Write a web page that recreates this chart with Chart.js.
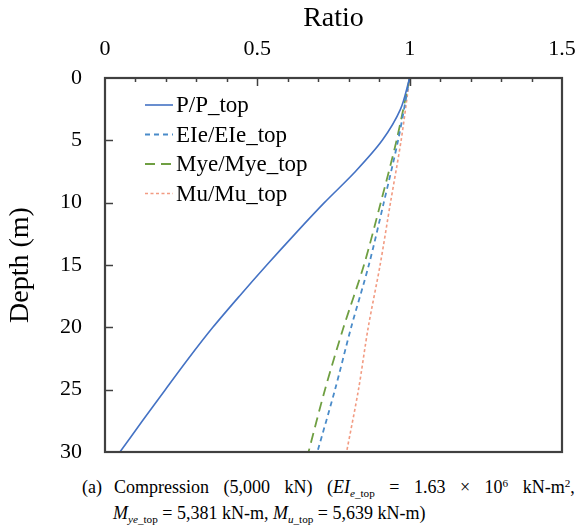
<!DOCTYPE html>
<html>
<head>
<meta charset="utf-8">
<script src="https://cdn.jsdelivr.net/npm/chart.js@4.4.0/dist/chart.umd.min.js"></script>
<style>
  body { margin: 0; background: #fff; overflow: hidden; }
  #wrap { position: relative; width: 579px; height: 525px; font-family: "Liberation Serif", "Times New Roman", serif; color: #000; }
  #chartBox { position: absolute; left: 0; top: 0; width: 579px; height: 470px; }
  .cap { position: absolute; font-size: 18px; line-height: 1.2; white-space: nowrap; }
  .cap sub, .cap sup { font-size: 0.62em; line-height: 0; }
  .cap sub { vertical-align: -0.35em; }
  .cap sup { vertical-align: 0.55em; }
  .wide { word-spacing: 10px; }
</style>
</head>
<body>
<div id="wrap">
  <div id="chartBox"><canvas id="chart" width="579" height="470"></canvas></div>
  <div class="cap" style="left:82px; top:477px;">(a)</div>
  <div class="cap wide" style="left:114px; top:477px;">Compression (5,000 kN) (<i>EI<sub>e</sub></i><sub>_top</sub> = 1.63 × 10<sup>6</sup> kN-m<sup>2</sup>,</div>
  <div class="cap" style="left:113px; top:503px;"><i>M<sub>ye</sub></i><sub>_top</sub> = 5,381 kN-m, <i>M<sub>u</sub></i><sub>_top</sub> = 5,639 kN-m)</div>
</div>
<script>
// depth below pile top (m)
const depthFine = [0, 2.5, 5, 7.5, 10, 12.5, 15, 17.5, 20, 22.5, 25, 27.5, 30];
const depthCoarse = [0, 5, 10, 15, 20, 25, 30];

// ratios to the value at the top
const pRatio   = [1.0, 0.97, 0.91, 0.822, 0.72, 0.624, 0.531, 0.441, 0.354, 0.274, 0.198, 0.123, 0.049];
const eiRatio  = [1.0, 0.962, 0.915, 0.866, 0.808, 0.755, 0.697];
const myeRatio = [1.0, 0.957, 0.905, 0.85, 0.783, 0.722, 0.668];
const muRatio  = [1.0, 0.972, 0.937, 0.903, 0.864, 0.832, 0.793];

const seriesNames = ["P/P_top", "EIe/EIe_top", "Mye/Mye_top", "Mu/Mu_top"];
const ratioTicks = [0, 0.5, 1, 1.5];
const depthTicks = [0, 5, 10, 15, 20, 25, 30];

const serif = '"Liberation Serif", "Times New Roman", serif';

const toPoints = (depths, ratios) => ratios.map((r, i) => ({ x: r, y: depths[i] }));

const datasets = [
    { label: seriesNames[0], data: toPoints(depthFine, pRatio), borderColor: "#4472C4", borderWidth: 1.6, borderDash: [], tension: 0.3 },
    { label: seriesNames[1], data: toPoints(depthCoarse, eiRatio), borderColor: "#4A8BC9", borderWidth: 1.8, borderDash: [5, 4], tension: 0.3 },
    { label: seriesNames[2], data: toPoints(depthCoarse, myeRatio), borderColor: "#6F9F42", borderWidth: 1.8, borderDash: [10, 6], tension: 0.3 },
    { label: seriesNames[3], data: toPoints(depthCoarse, muRatio), borderColor: "#F29B82", borderWidth: 1.6, borderDash: [3, 2.5], tension: 0.3 },
];
datasets.forEach(ds => {
    ds.showLine = true;
    ds.pointRadius = 0;
    ds.fill = false;
});

// box around the plot plus inward tick marks
const frame = {
    id: "frame",
    afterDraw(chart) {
        const { ctx, chartArea: a, scales } = chart;
        ctx.save();
        ctx.setLineDash([]);
        ctx.strokeStyle = "#404040";
        ctx.lineWidth = 1.5;
        for (let i = 1; i < 15; i++) {
            const px = Math.round(scales.x.getPixelForValue(i / 10)) + 0.5;
            const len = i % 5 === 0 ? 8 : 4;
            ctx.beginPath();
            ctx.moveTo(px, a.top);
            ctx.lineTo(px, a.top + len);
            ctx.stroke();
        }
        depthTicks.slice(1, -1).forEach(d => {
            const py = Math.round(scales.y.getPixelForValue(d)) + 0.5;
            ctx.beginPath();
            ctx.moveTo(a.left, py);
            ctx.lineTo(a.left + 8, py);
            ctx.stroke();
        });
        ctx.lineWidth = 2.2;
        ctx.strokeRect(a.left, a.top, a.right - a.left, a.bottom - a.top);
        ctx.restore();
    }
};

// legend drawn inside the plot, top left
const innerLegend = {
    id: "innerLegend",
    afterDraw(chart) {
        const { ctx, chartArea: a } = chart;
        ctx.save();
        chart.data.datasets.forEach((ds, i) => {
            const yy = a.top + 27 + i * 29.5;
            ctx.beginPath();
            ctx.setLineDash(ds.borderDash);
            ctx.strokeStyle = ds.borderColor;
            ctx.lineWidth = ds.borderWidth;
            ctx.moveTo(a.left + 40, yy);
            ctx.lineTo(a.left + 68, yy);
            ctx.stroke();
            ctx.setLineDash([]);
            ctx.fillStyle = "#000";
            ctx.font = "23px " + serif;
            ctx.textBaseline = "middle";
            ctx.fillText(ds.label, a.left + 71, yy + 1);
        });
        ctx.restore();
    }
};

new Chart(document.getElementById("chart"), {
    type: "scatter",
    data: { datasets: datasets },
    options: {
        responsive: false,
        animation: false,
        layout: { padding: { left: 0, right: 17, top: 0, bottom: 18 } },
        plugins: { legend: { display: false }, tooltip: { enabled: false } },
        scales: {
            x: {
                type: "linear",
                position: "top",
                min: 0,
                max: 1.5,
                afterBuildTicks: s => { s.ticks = ratioTicks.map(v => ({ value: v })); },
                afterFit: s => {
                    s.height = 78;
                    s.paddingLeft = 0;
                    s.paddingRight = 0;
                },
                ticks: { color: "#000", font: { family: serif, size: 22 }, padding: 16, maxRotation: 0, callback: v => String(v) },
                grid: { display: false, drawTicks: false },
                border: { display: false },
                title: { display: true, text: "Ratio", color: "#000", font: { family: serif, size: 28 }, padding: { top: 2, bottom: 0 } }
            },
            y: {
                type: "linear",
                reverse: true,
                min: 0,
                max: 30,
                afterBuildTicks: s => { s.ticks = depthTicks.map(v => ({ value: v })); },
                afterFit: s => {
                    s.width = 105;
                    s.paddingTop = 0;
                    s.paddingBottom = 0;
                },
                ticks: { color: "#000", font: { family: serif, size: 22 }, padding: 23 },
                grid: { display: false, drawTicks: false },
                border: { display: false },
                title: { display: true, text: "Depth (m)", color: "#000", font: { family: serif, size: 28 }, padding: { top: 4, bottom: 0 } }
            }
        }
    },
    plugins: [frame, innerLegend]
});
</script>
</body>
</html>
